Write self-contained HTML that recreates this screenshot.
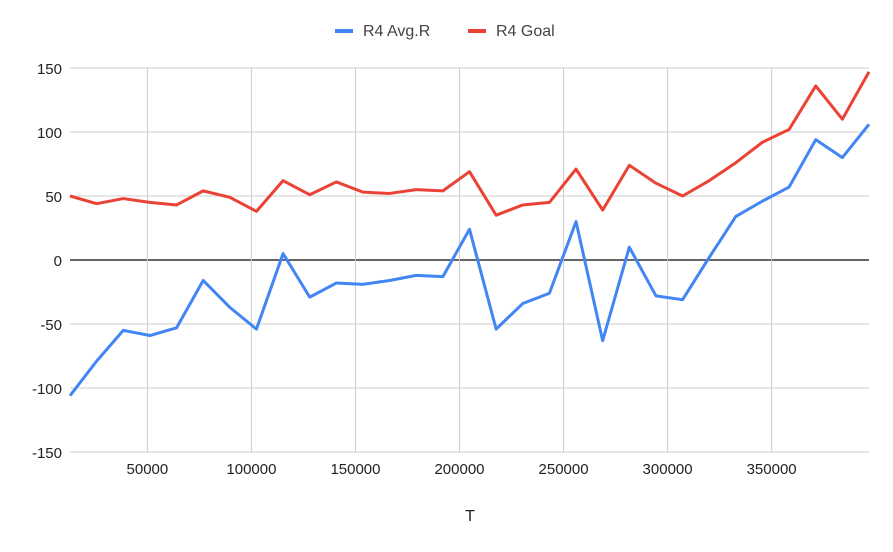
<!DOCTYPE html>
<html><head><meta charset="utf-8"><style>
body{margin:0;background:#fff;font-family:"Liberation Sans",Arial,sans-serif;}
svg text{font-family:"Liberation Sans",Arial,sans-serif;fill:#222;}
</style></head><body>
<svg id="chart" width="893" height="547" xmlns="http://www.w3.org/2000/svg">
<rect width="893" height="547" fill="#fff"/>
<g id="grid"></g>
<g id="lines"></g>
<g>
<g><line x1="335" y1="31" x2="353" y2="31" stroke="#4285f4" stroke-width="4"/><text x="363" y="36" font-size="16" style="fill:#444">R4 Avg.R</text></g>
<g><line x1="468" y1="31" x2="486" y2="31" stroke="#ea4335" stroke-width="4"/><text x="496" y="36" font-size="16" style="fill:#444">R4 Goal</text></g>
</g>
<text x="470" y="521" font-size="16" text-anchor="middle">T</text>
</svg>
<script>
const tValues=[12800,25600,38400,51200,64000,76800,89600,102400,115200,128000,140800,153600,166400,179200,192000,204800,217600,230400,243200,256000,268800,281600,294400,307200,320000,332800,345600,358400,371200,384000,396800];
const goalValues=[50,44,48,45,43,54,49,38,62,51,61,53,52,55,54,69,35,43,45,71,39,74,60,50,62,76,92,102,136,110,147];
const avgValues=[-106,-79,-55,-59,-53,-16,-37,-54,5,-29,-18,-19,-16,-12,-13,24,-54,-34,-26,30,-63,10,-28,-31,2,34,46,57,94,80,106];
const yTicks=[150,100,50,0,-50,-100,-150];
const xTicks=[50000,100000,150000,200000,250000,300000,350000];
const X0=70,X1=869,Y0=452,Y1=68;
const xs=v=>X0+(v-12800)/(396800-12800)*(X1-X0);
const ys=v=>Y0-(v+150)/300*(Y0-Y1);
const NS="http://www.w3.org/2000/svg";
const grid=document.getElementById('grid'),lines=document.getElementById('lines');
function mk(tag,attrs,parent){const e=document.createElementNS(NS,tag);for(const k in attrs)e.setAttribute(k,attrs[k]);parent.appendChild(e);return e;}
yTicks.forEach(v=>{
 const l=mk('line',{x1:X0,x2:X1,y1:ys(v),y2:ys(v),stroke:v===0?'#333':'#ccc','stroke-width':v===0?1.5:1},grid);
 
 
 const t=mk('text',{x:62,y:ys(v)+6,'font-size':15,'text-anchor':'end'},grid);t.textContent=v;
 
 
});
xTicks.forEach(v=>{
 const l=mk('line',{x1:xs(v),x2:xs(v),y1:Y1,y2:Y0,stroke:'#ccc','stroke-width':1},grid);
 
 
 const t=mk('text',{x:xs(v),y:474,'font-size':15,'text-anchor':'middle'},grid);t.textContent=v;
 
 
});
function series(vals,color,name){
 const p=mk('polyline',{points:vals.map((v,i)=>xs(tValues[i])+','+ys(v)).join(' '),fill:'none',stroke:color,'stroke-width':3,'stroke-linejoin':'round'},lines);
 
 
}
series(goalValues,'#ea4335','series-r4-goal');
series(avgValues,'#4285f4','series-r4-avg-r');
</script>
</body></html>
